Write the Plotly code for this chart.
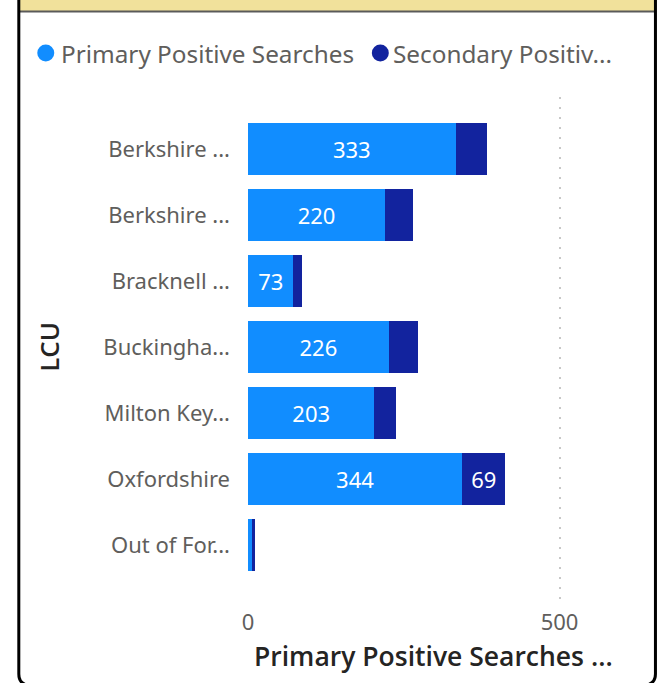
import plotly.graph_objects as go

# ---- data ----
categories = ["Berkshire East", "Berkshire West", "Bracknell Forest", "Buckinghamshire",
              "Milton Keynes", "Oxfordshire", "Out of Force"]
tick_labels = ["Berkshire ...", "Berkshire ...", "Bracknell ...", "Buckingha...",
               "Milton Key...", "Oxfordshire", "Out of For..."]
primary = [333, 220, 73, 226, 203, 344, 7]
secondary = [51, 44, 13, 47, 35, 69, 5]
series_names = ["Primary Positive Searches", "Secondary Positive Searches"]
legend_labels = ["Primary Positive Searches", "Secondary Positiv..."]
x_title = "Primary Positive Searches ..."
y_title = "LCU"
x_ticks = [0, 500]

C1 = "#118DFF"
C2 = "#12239E"
GREY = "#605E5C"
DARK = "#252423"
FONT = "Noto Sans, Open Sans, sans-serif"
TFONT = "Open Sans, Noto Sans, sans-serif"

W, H = 665, 683
L, R, T, B = 247.5, 620, 97, 600
XMAX = 597
MIN_LABEL = 60  # values narrower than this are not labelled


def px(x):
    return (x - L) / (R - L)


def py(y):
    return (B - y) / (B - T)


def lab(vals):
    return [str(v) if v >= MIN_LABEL else "" for v in vals]


fig = go.Figure()
fig.add_trace(go.Bar(y=list(range(len(categories))), x=primary, orientation="h",
                     name=series_names[0], marker=dict(color=C1, line=dict(width=0)),
                     text=lab(primary), textposition="inside", insidetextanchor="middle",
                     textangle=0, textfont=dict(color="white", size=22, family=FONT),
                     hovertext=categories))
fig.add_trace(go.Bar(y=list(range(len(categories))), x=secondary, orientation="h",
                     name=series_names[1], marker=dict(color=C2, line=dict(width=0)),
                     text=lab(secondary), textposition="inside", insidetextanchor="middle",
                     textangle=0, textfont=dict(color="white", size=22, family=FONT),
                     hovertext=categories))

shapes = []
# yellow header band and separator
shapes.append(dict(type="rect", xref="paper", yref="paper", x0=px(19), x1=px(655), y0=py(-2), y1=py(11),
                   fillcolor="#F1E19B", line=dict(width=0), layer="below"))
shapes.append(dict(type="line", xref="paper", yref="paper", x0=px(19), x1=px(655), y0=py(11.5), y1=py(11.5),
                   line=dict(color="#5A5A5A", width=2)))


def P(x, y):
    return f"{px(x):.5f},{py(y):.5f}"


# card borders with rounded bottom corners
left_path = f"M {P(18,-2)} L {P(18,674)} Q {P(18,683)} {P(26,685)}"
right_path = f"M {P(655.5,-2)} L {P(655.5,674)} Q {P(655.5,683)} {P(647,685)}"
for p in (left_path, right_path):
    shapes.append(dict(type="path", xref="paper", yref="paper", path=p,
                       line=dict(color="black", width=3)))
# legend circles
for cx, col in ((45, C1), (380, C2)):
    shapes.append(dict(type="circle", xref="paper", yref="paper",
                       x0=px(cx - 8.5), x1=px(cx + 8.5), y0=py(53 + 8.5), y1=py(53 - 8.5),
                       fillcolor=col, line=dict(width=0)))

annotations = []
for tx, t in ((58, legend_labels[0]), (391, legend_labels[1])):
    annotations.append(dict(xref="paper", yref="paper", x=px(tx), y=py(53), text=t,
                            xanchor="left", yanchor="middle", showarrow=False,
                            font=dict(family=FONT, size=24.3, color=GREY)))
annotations.append(dict(xref="paper", yref="paper", x=px(48), y=py(347), text=y_title,
                        textangle=-90, xanchor="center", yanchor="middle", showarrow=False,
                        font=dict(family=TFONT, size=26, color=DARK, weight=600)))
annotations.append(dict(xref="paper", yref="paper", x=px(433.5), y=py(656), text=x_title,
                        xanchor="center", yanchor="middle", showarrow=False,
                        font=dict(family=TFONT, size=26.5, color=DARK, weight=600)))

n = len(categories)
fig.update_layout(
    width=W, height=H, barmode="stack", bargap=0.212, showlegend=False,
    margin=dict(l=L, r=W - R, t=T, b=H - B, pad=0),
    paper_bgcolor="white", plot_bgcolor="white",
    shapes=shapes, annotations=annotations,
    xaxis=dict(range=[0, XMAX], tickvals=x_ticks, ticktext=[str(v) for v in x_ticks],
               showgrid=True, gridcolor="#C8C8C8", gridwidth=2, griddash="2px,8px",
               zeroline=False, showline=False, ticks="", ticklabelstandoff=7,
               tickfont=dict(family=FONT, size=22, color=GREY), fixedrange=True),
    yaxis=dict(range=[(n - 1) + (B - 545) / 66, -(149 - T) / 66],
               tickvals=list(range(n)), ticktext=tick_labels,
               showgrid=False, zeroline=False, showline=False, ticks="", ticklabelstandoff=17,
               tickfont=dict(family=FONT, size=22, color=GREY), fixedrange=True),
    uniformtext=dict(minsize=18, mode="show"),
)

fig.write_html("out.html", config={"displayModeBar": False},
               post_script="document.body.style.margin='0';document.body.style.overflow='hidden';")
